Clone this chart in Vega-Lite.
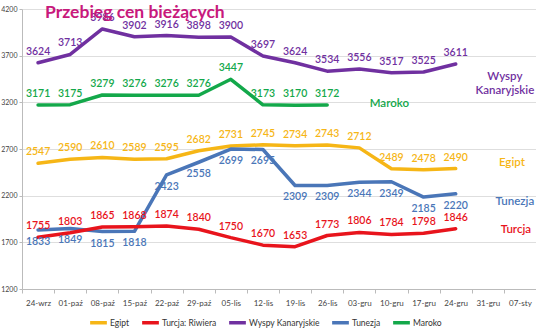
{
  "$schema": "https://vega.github.io/schema/vega-lite/v6.json",
  "width": 514,
  "height": 280,
  "autosize": "none",
  "padding": {"left": 22, "top": 9, "right": 0, "bottom": 43},
  "background": "white",
  "config": {
    "font": "Lato",
    "view": {"stroke": null}
  },
  "title": {
    "text": "Przebieg cen bieżących",
    "anchor": "start",
    "frame": "group",
    "dx": 23,
    "offset": -30,
    "baseline": "alphabetic",
    "fontSize": 17.5,
    "font": "Lato",
    "fontWeight": "bold",
    "color": "#c8197c"
  },
  "datasets": {
    "series": [
      {"d": "24-wrz", "s": "Wyspy Kanaryjskie", "v": 3624},
      {"d": "01-paź", "s": "Wyspy Kanaryjskie", "v": 3713},
      {"d": "08-paź", "s": "Wyspy Kanaryjskie", "v": 3986},
      {"d": "15-paź", "s": "Wyspy Kanaryjskie", "v": 3902},
      {"d": "22-paź", "s": "Wyspy Kanaryjskie", "v": 3916},
      {"d": "29-paź", "s": "Wyspy Kanaryjskie", "v": 3898},
      {"d": "05-lis", "s": "Wyspy Kanaryjskie", "v": 3900},
      {"d": "12-lis", "s": "Wyspy Kanaryjskie", "v": 3697},
      {"d": "19-lis", "s": "Wyspy Kanaryjskie", "v": 3624},
      {"d": "26-lis", "s": "Wyspy Kanaryjskie", "v": 3534},
      {"d": "03-gru", "s": "Wyspy Kanaryjskie", "v": 3556},
      {"d": "10-gru", "s": "Wyspy Kanaryjskie", "v": 3517},
      {"d": "17-gru", "s": "Wyspy Kanaryjskie", "v": 3525},
      {"d": "24-gru", "s": "Wyspy Kanaryjskie", "v": 3611},
      {"d": "24-wrz", "s": "Maroko", "v": 3171},
      {"d": "01-paź", "s": "Maroko", "v": 3175},
      {"d": "08-paź", "s": "Maroko", "v": 3279},
      {"d": "15-paź", "s": "Maroko", "v": 3276},
      {"d": "22-paź", "s": "Maroko", "v": 3276},
      {"d": "29-paź", "s": "Maroko", "v": 3276},
      {"d": "05-lis", "s": "Maroko", "v": 3447},
      {"d": "12-lis", "s": "Maroko", "v": 3173},
      {"d": "19-lis", "s": "Maroko", "v": 3170},
      {"d": "26-lis", "s": "Maroko", "v": 3172},
      {"d": "24-wrz", "s": "Egipt", "v": 2547},
      {"d": "01-paź", "s": "Egipt", "v": 2590},
      {"d": "08-paź", "s": "Egipt", "v": 2610},
      {"d": "15-paź", "s": "Egipt", "v": 2589},
      {"d": "22-paź", "s": "Egipt", "v": 2595},
      {"d": "29-paź", "s": "Egipt", "v": 2682},
      {"d": "05-lis", "s": "Egipt", "v": 2731},
      {"d": "12-lis", "s": "Egipt", "v": 2745},
      {"d": "19-lis", "s": "Egipt", "v": 2734},
      {"d": "26-lis", "s": "Egipt", "v": 2743},
      {"d": "03-gru", "s": "Egipt", "v": 2712},
      {"d": "10-gru", "s": "Egipt", "v": 2489},
      {"d": "17-gru", "s": "Egipt", "v": 2478},
      {"d": "24-gru", "s": "Egipt", "v": 2490},
      {"d": "24-wrz", "s": "Tunezja", "v": 1833},
      {"d": "01-paź", "s": "Tunezja", "v": 1849},
      {"d": "08-paź", "s": "Tunezja", "v": 1815},
      {"d": "15-paź", "s": "Tunezja", "v": 1818},
      {"d": "22-paź", "s": "Tunezja", "v": 2423},
      {"d": "29-paź", "s": "Tunezja", "v": 2558},
      {"d": "05-lis", "s": "Tunezja", "v": 2699},
      {"d": "12-lis", "s": "Tunezja", "v": 2695},
      {"d": "19-lis", "s": "Tunezja", "v": 2309},
      {"d": "26-lis", "s": "Tunezja", "v": 2309},
      {"d": "03-gru", "s": "Tunezja", "v": 2344},
      {"d": "10-gru", "s": "Tunezja", "v": 2349},
      {"d": "17-gru", "s": "Tunezja", "v": 2185},
      {"d": "24-gru", "s": "Tunezja", "v": 2220},
      {"d": "24-wrz", "s": "Turcja: Riwiera", "v": 1755},
      {"d": "01-paź", "s": "Turcja: Riwiera", "v": 1803},
      {"d": "08-paź", "s": "Turcja: Riwiera", "v": 1865},
      {"d": "15-paź", "s": "Turcja: Riwiera", "v": 1868},
      {"d": "22-paź", "s": "Turcja: Riwiera", "v": 1874},
      {"d": "29-paź", "s": "Turcja: Riwiera", "v": 1840},
      {"d": "05-lis", "s": "Turcja: Riwiera", "v": 1750},
      {"d": "12-lis", "s": "Turcja: Riwiera", "v": 1670},
      {"d": "19-lis", "s": "Turcja: Riwiera", "v": 1653},
      {"d": "26-lis", "s": "Turcja: Riwiera", "v": 1773},
      {"d": "03-gru", "s": "Turcja: Riwiera", "v": 1806},
      {"d": "10-gru", "s": "Turcja: Riwiera", "v": 1784},
      {"d": "17-gru", "s": "Turcja: Riwiera", "v": 1798},
      {"d": "24-gru", "s": "Turcja: Riwiera", "v": 1846}
    ],
    "names": [
      {"d": "07-sty", "s": "Wyspy Kanaryjskie", "v": 3470, "t": ["Wyspy", "Kanaryjskie"], "off": 1},
      {"d": "10-gru", "s": "Maroko", "v": 3180, "t": ["Maroko"], "off": 14},
      {"d": "07-sty", "s": "Egipt", "v": 2545, "t": ["Egipt"], "off": 8},
      {"d": "07-sty", "s": "Tunezja", "v": 2130, "t": ["Tunezja"], "off": 11},
      {"d": "07-sty", "s": "Turcja: Riwiera", "v": 1830, "t": ["Turcja"], "off": 12}
    ]
  },
  "layer": [
    {
      "data": {"name": "series"},
      "mark": {"type": "line", "strokeWidth": 3.5, "strokeJoin": "round", "strokeCap": "round"},
      "encoding": {
        "x": {
          "field": "d", "type": "ordinal",
          "scale": {"type": "band", "paddingInner": 0, "paddingOuter": 0,
            "domain": ["24-wrz","01-paź","08-paź","15-paź","22-paź","29-paź","05-lis","12-lis","19-lis","26-lis","03-gru","10-gru","17-gru","24-gru","31-gru","07-sty"]},
          "axis": {"title": null, "labelAngle": 0, "labelFontSize": 8, "labelColor": "#444", "domainColor": "#bbbbbb", "tickColor": "#bbbbbb", "tickBand": "extent", "tickSize": 4, "labelPadding": 6, "grid": false}
        },
        "y": {
          "field": "v", "type": "quantitative",
          "scale": {"domain": [1200, 4200], "nice": false, "zero": false},
          "axis": {"title": null, "values": [1200,1700,2200,2700,3200,3700,4200], "format": "d", "labelFontSize": 7, "labelColor": "#444", "domainColor": "#bbbbbb", "tickColor": "#bbbbbb", "tickSize": 3, "labelPadding": 2, "gridColor": "#dedede", "grid": true}
        },
        "color": {
          "field": "s", "type": "nominal",
          "scale": {
            "domain": ["Egipt", "Turcja: Riwiera", "Wyspy Kanaryjskie", "Tunezja", "Maroko"],
            "range": ["#f6b616", "#e8141c", "#7030a0", "#4a76b8", "#13a84a"]
          },
          "legend": {
            "title": null, "orient": "none", "direction": "horizontal", "columns": 5,
            "legendX": 66, "legendY": 303,
            "symbolType": "stroke", "symbolStrokeWidth": 3.5, "symbolSize": 280,
            "labelFontSize": 8.5, "labelColor": "#333", "columnPadding": 5, "labelOffset": 1
          }
        },
        "detail": {"field": "s"}
      }
    },
    {
      "data": {"name": "series"},
      "transform": [{"filter": "datum.s !== 'Tunezja'"}],
      "mark": {"type": "text", "dy": -11, "fontSize": 10.5, "fontWeight": 600},
      "encoding": {
        "x": {"field": "d", "type": "ordinal"},
        "y": {"field": "v", "type": "quantitative"},
        "text": {"field": "v", "type": "quantitative", "format": "d"},
        "color": {"field": "s", "type": "nominal", "legend": null}
      }
    },
    {
      "data": {"name": "series"},
      "transform": [{"filter": "datum.s === 'Tunezja'"}],
      "mark": {"type": "text", "dy": 12, "fontSize": 10.5, "fontWeight": 600},
      "encoding": {
        "x": {"field": "d", "type": "ordinal"},
        "y": {"field": "v", "type": "quantitative"},
        "text": {"field": "v", "type": "quantitative", "format": "d"},
        "color": {"field": "s", "type": "nominal", "legend": null}
      }
    },
    {
      "data": {"name": "names"},
      "mark": {"type": "text", "fontSize": 11.5, "fontWeight": 600, "lineHeight": 14},
      "encoding": {
        "x": {"field": "d", "type": "ordinal"},
        "y": {"field": "v", "type": "quantitative"},
        "xOffset": {"field": "off", "type": "quantitative", "scale": null},
        "text": {"field": "t"},
        "color": {"field": "s", "type": "nominal", "legend": null}
      }
    }
  ]
}
